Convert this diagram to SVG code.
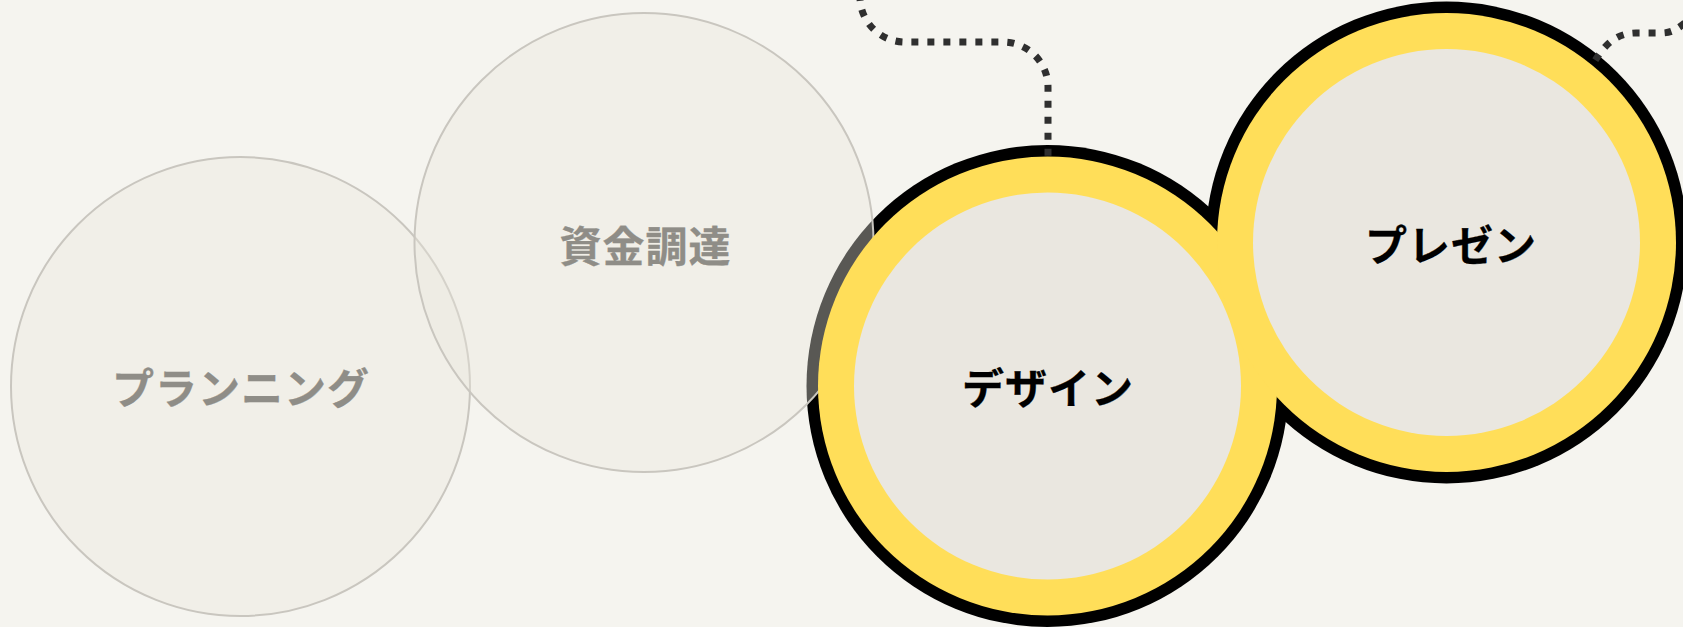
<svg xmlns="http://www.w3.org/2000/svg" width="1683" height="627" viewBox="0 0 1683 627">
  <style>
    .bg { fill: #f5f4ef; }
    .ring-outline { fill: #000000; }
    .idle { fill: rgba(235, 231, 222, 0.38); stroke: #c9c6bf; stroke-width: 2; }
    .ring { fill: #ffde59; }
    .core { fill: #eae7e0; }
    .conn { fill: none; stroke: #2f2f2f; stroke-width: 7; stroke-dasharray: 7 9; stroke-linecap: butt; }
    .label { font-family: "Noto Sans CJK JP", "Noto Sans", sans-serif; font-weight: 700; font-size: 42px; letter-spacing: 1px; text-anchor: middle; dominant-baseline: central; stroke-width: 0.3px; stroke-linejoin: round; }
    .label-idle { fill: #8f8d87; stroke: #8f8d87; }
    .label-active { fill: #000000; stroke: #000000; }
  </style>
  <rect class="bg" x="0" y="0" width="1683" height="627"/>

  <g id="outlines">
    <circle class="ring-outline" cx="1047.5" cy="386" r="241"/>
    <circle class="ring-outline" cx="1446.5" cy="242.5" r="241"/>
  </g>

  <g id="connectors">
    <path class="conn" stroke-dashoffset="9.8" d="M 1048 162 L 1048 87 A 45 45 0 0 0 1003 42 L 905 42 A 45 45 0 0 1 860 -3 L 860 -20"/>
    <path class="conn" d="M 1595.3 60.2 C 1603 48 1614 33 1636 33 L 1662 33 C 1672 33 1680 28 1690 18"/>
  </g>

  <g id="node-planning">
    <circle class="idle" cx="240.5" cy="386.5" r="229.5"/>
    <text class="label label-idle" x="241" y="385.5">プランニング</text>
  </g>

  <g id="node-funding">
    <circle class="idle" cx="644" cy="242.5" r="229.5"/>
    <text class="label label-idle" x="645.5" y="243.5">資金調達</text>
  </g>

  <g id="node-design">
    <circle class="ring" cx="1047.5" cy="386" r="229.5"/>
    <circle class="core" cx="1047.5" cy="386" r="193.5"/>
    <text class="label label-active" x="1048" y="385">デザイン</text>
  </g>

  <g id="node-presentation">
    <circle class="ring" cx="1446.5" cy="242.5" r="229.5"/>
    <circle class="core" cx="1446.5" cy="242.5" r="193.5"/>
    <text class="label label-active" x="1451" y="242">プレゼン</text>
  </g>
</svg>
